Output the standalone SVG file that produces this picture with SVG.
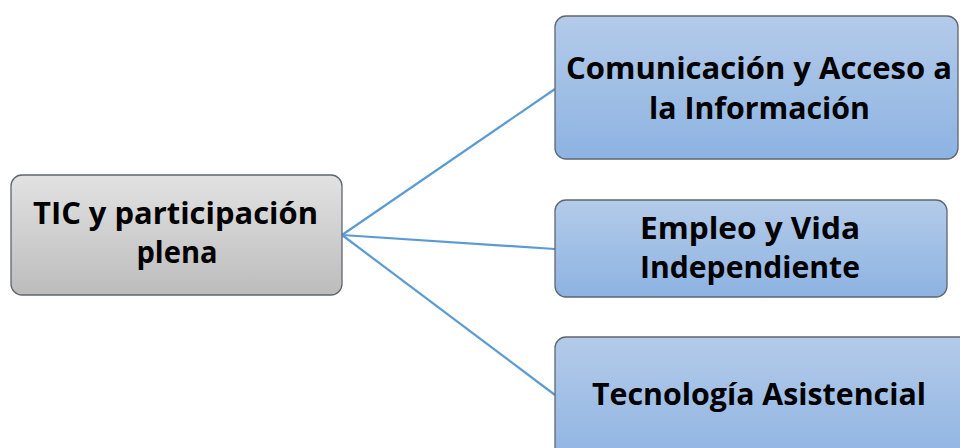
<svg xmlns="http://www.w3.org/2000/svg" width="960" height="448" viewBox="0 0 960 448">
<defs>
<linearGradient id="gBlue" x1="0" y1="0" x2="0" y2="1">
<stop offset="0" stop-color="#b4cbe9"/>
<stop offset="1" stop-color="#8db3e2"/>
</linearGradient>
<linearGradient id="gGray" x1="0" y1="0" x2="0" y2="1">
<stop offset="0" stop-color="#e2e2e2"/>
<stop offset="1" stop-color="#bcbcbc"/>
</linearGradient>
<style>
.box{stroke:#5f6670;stroke-width:1.3}
.blue{fill:url(#gBlue)}
.gray{fill:url(#gGray)}
.t{font-family:"Open Sans","Liberation Sans",sans-serif;font-weight:700;font-size:31px;fill:#000;text-anchor:middle}
.c{stroke:#5b9bd5;stroke-width:2.2;fill:none}
</style>
</defs>
<g id="connectors">
<line class="c" x1="342" y1="235" x2="555" y2="89"/>
<line class="c" x1="342" y1="235" x2="555" y2="249"/>
<line class="c" x1="342" y1="235" x2="555" y2="395"/>
</g>
<g id="node-tic">
<rect class="box gray" x="11" y="175" width="331" height="120" rx="11"/>
<text class="t" x="175.5" y="224" textLength="285" lengthAdjust="spacingAndGlyphs">TIC y participación</text>
<text class="t" x="177" y="263" textLength="81" lengthAdjust="spacingAndGlyphs">plena</text>
</g>
<g id="node-comunicacion">
<rect class="box blue" x="555" y="16" width="403" height="143" rx="11"/>
<text class="t" x="759" y="79" textLength="386" lengthAdjust="spacingAndGlyphs">Comunicación y Acceso a</text>
<text class="t" x="759.5" y="119" textLength="221" lengthAdjust="spacingAndGlyphs">la Información</text>
</g>
<g id="node-empleo">
<rect class="box blue" x="555" y="200" width="392" height="97" rx="11"/>
<text class="t" x="750" y="239" textLength="220" lengthAdjust="spacingAndGlyphs">Empleo y Vida</text>
<text class="t" x="750" y="278" textLength="220" lengthAdjust="spacingAndGlyphs">Independiente</text>
</g>
<g id="node-tecnologia">
<rect class="box blue" x="555" y="337" width="420" height="130" rx="11"/>
<text class="t" x="759" y="405" textLength="334" lengthAdjust="spacingAndGlyphs">Tecnología Asistencial</text>
</g>
</svg>
